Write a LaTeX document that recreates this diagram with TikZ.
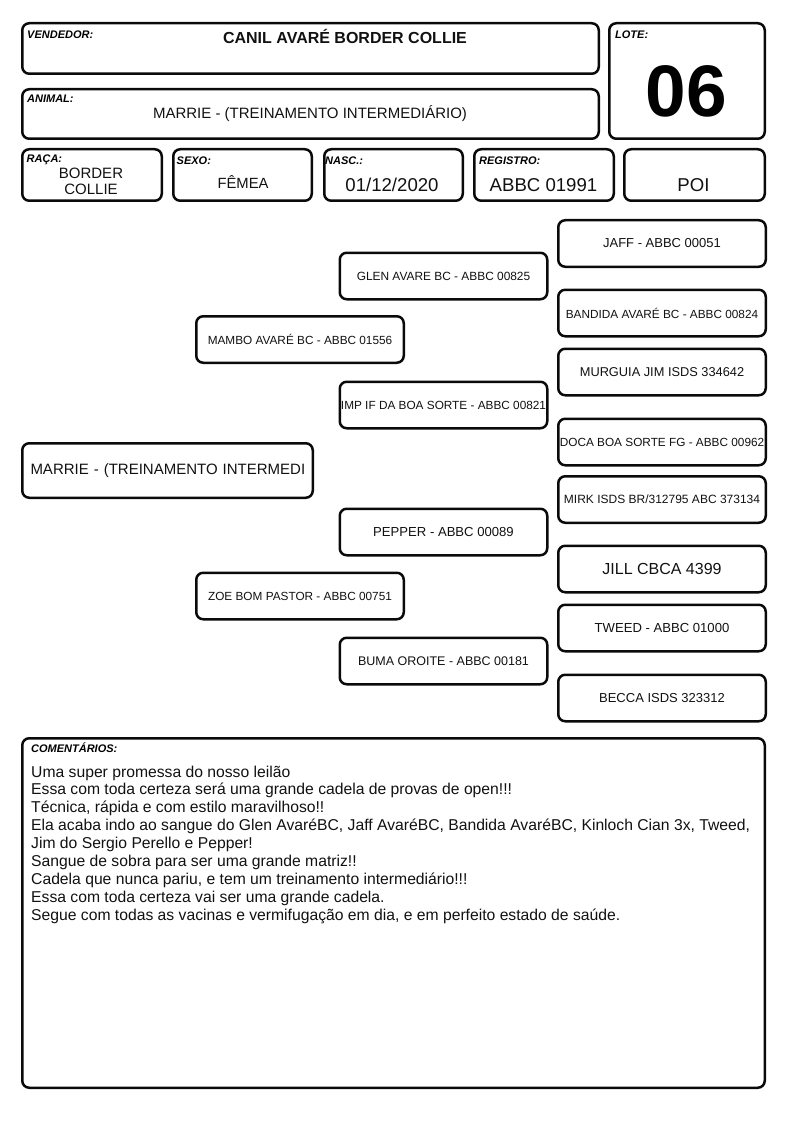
\documentclass[tikz,border=0pt]{standalone}
\usepackage{fontspec}
\setmainfont{Liberation Sans}
\usetikzlibrary{positioning}
\definecolor{framec}{HTML}{0A0A0A}
\definecolor{inkc}{HTML}{111111}

\begin{document}
\begin{tikzpicture}[
    x=1pt,y=-1pt,
    cell/.style 2 args={draw=framec,line width=2.5pt,rounded corners=7pt,
      minimum width=#1,minimum height=#2,inner sep=0pt,text=inkc},
    dogbox/.style={cell={207.5pt}{46.5pt}},
    tag/.style={font=\fontsize{11}{12}\selectfont\bfseries\itshape,anchor=base west,inner sep=0pt},
    val/.style={font=\fontsize{#1}{#1}\selectfont,anchor=base,inner sep=0pt,text=inkc},
    nm/.style={font=\fontsize{#1}{#1}\selectfont},
  ]
\useasboundingbox (0,0) rectangle (794,1123);

% ======================= HEADER =======================
\node[cell={576.5pt}{50.5pt}] (vend) at (310.5,48.5) {};
\node[cell={576.5pt}{49.5pt}] (anim) at (310.5,114) {};
\node[cell={155.5pt}{115.5pt}] (lote) at (687,81) {};
\node[cell={139.5pt}{51.5pt}] (raca) at (92,175) {};
\node[cell={138.5pt}{51.5pt}] (sexo) at (242.5,175) {};
\node[cell={138.5pt}{51.5pt}] (nasc) at (393.5,175) {};
\node[cell={139.5pt}{51.5pt}] (regi) at (544,175) {};
\node[cell={140.5pt}{51.5pt}] (poi) at (694.5,175) {};

\node[tag] (vendT) at (27,39) {VENDEDOR:};
\node[tag] (animT) at (27,102.3) {ANIMAL:};
\node[tag] (loteT) at (615,39) {LOTE:};
\node[tag] (racaT) at (26.5,162.5) {RAÇA:};
\node[tag] (sexoT) at (176.5,165) {SEXO:};
\node[tag] (nascT) at (325,165) {NASC.:};
\node[tag] (regiT) at (479,165) {REGISTRO:};

\node[val=16,font=\fontsize{16}{16}\selectfont\bfseries] (vendV) at (345,43.5) {CANIL AVARÉ BORDER COLLIE};
\node[val=15] (animV) at (310,119) {MARRIE - (TREINAMENTO INTERMEDIÁRIO)};
\node[val=73,font=\fontsize{73}{73}\selectfont\bfseries,text=black] (loteV) at (686.5,116.5) {06};
% base of a two-line node = last line
\node[val=15,align=center,font=\fontsize{15}{16.7}\selectfont] (racaV) at (91,195) {BORDER\\COLLIE};
\node[val=14.8] (sexoV) at (243,189) {FÊMEA};
\node[val=18.6] (nascV) at (392,191.7) {01/12/2020};
\node[val=18.6] (regiV) at (543.5,192) {ABBC 01991};
\node[val=18.6] (poiV) at (693.5,192) {POI};

% ======================= PEDIGREE =======================
\node[cell={290.5pt}{54.5pt},align=left,text width=274pt,inner xsep=8pt,nm=15] (marrie) at (167.5,470.5)
  {\mbox{MARRIE - (TREINAMENTO INTERMEDI}};

% parents
\node[dogbox,nm=11.8] (mambo) at (300,339.5) {MAMBO AVARÉ BC - ABBC 01556};
\node[dogbox,nm=11.8] (zoe) at (300,596) {ZOE BOM PASTOR - ABBC 00751};

% grandparents
\node[dogbox,nm=11.9] (glen) at (443.5,276) {GLEN AVARE BC - ABBC 00825};
\node[dogbox,nm=11.8] (imp) at (443.5,405) {IMP IF DA BOA SORTE - ABBC 00821};
\node[dogbox,nm=13.1] (pepper) at (443.5,532) {PEPPER - ABBC 00089};
\node[dogbox,nm=12.5] (buma) at (443.5,661) {BUMA OROITE - ABBC 00181};

% great-grandparents
\node[dogbox,nm=13] (jaff) at (662,243.5) {JAFF - ABBC 00051};
\node[dogbox,nm=11.8] (bandida) at (662,313) {BANDIDA AVARÉ BC - ABBC 00824};
\node[dogbox,nm=12.8] (murguia) at (662,372) {MURGUIA JIM ISDS 334642};
\node[dogbox,nm=11.8] (doca) at (662,442) {DOCA BOA SORTE FG - ABBC 00962};
\node[dogbox,nm=12] (mirk) at (662,499.5) {MIRK ISDS BR/312795 ABC 373134};
\node[dogbox,nm=16] (jill) at (662,569) {JILL CBCA 4399};
\node[dogbox,nm=13.1] (tweed) at (662,628) {TWEED - ABBC 01000};
\node[dogbox,nm=13] (becca) at (662,698) {BECCA ISDS 323312};

% ======================= COMMENTS =======================
\node[cell={742.5pt}{349.5pt}] (comm) at (393.5,913) {};
\node[tag] (commT) at (31,752) {COMENTÁRIOS:};
% 9 lines, last baseline = 777 + 8*17.9
\node[anchor=base west,inner sep=0pt,align=left,text=inkc,font=\fontsize{15.7}{17.9}\selectfont] (commV) at (31,920.2)
  {Uma super promessa do nosso leilão\\
   Essa com toda certeza será uma grande cadela de provas de open!!!\\
   Técnica, rápida e com estilo maravilhoso!!\\
   Ela acaba indo ao sangue do Glen AvaréBC, Jaff AvaréBC, Bandida AvaréBC, Kinloch Cian 3x, Tweed,\\
   Jim do Sergio Perello e Pepper!\\
   Sangue de sobra para ser uma grande matriz!!\\
   Cadela que nunca pariu, e tem um treinamento intermediário!!!\\
   Essa com toda certeza vai ser uma grande cadela.\\
   Segue com todas as vacinas e vermifugação em dia, e em perfeito estado de saúde.};

\end{tikzpicture}
\end{document}
